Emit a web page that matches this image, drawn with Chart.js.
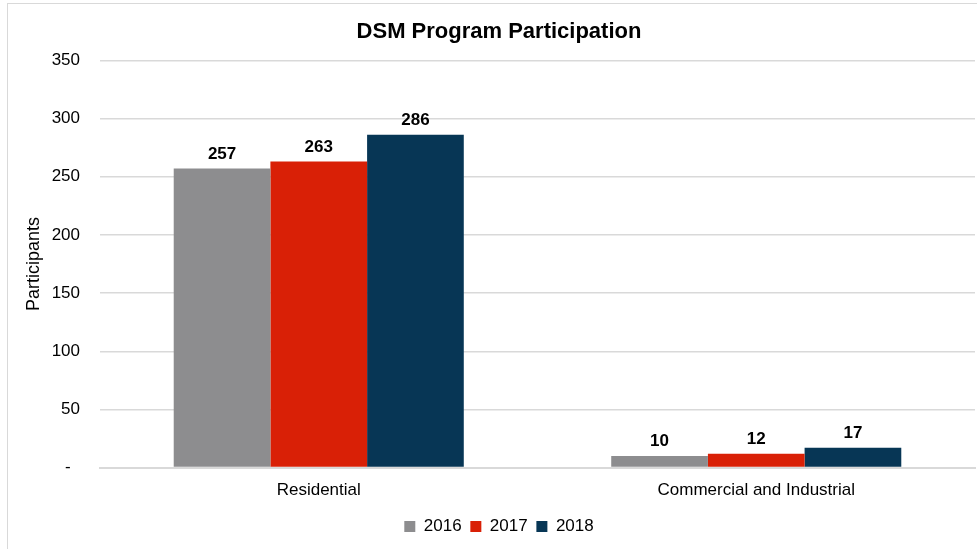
<!DOCTYPE html>
<html>
<head>
<meta charset="utf-8">
<script src="https://cdn.jsdelivr.net/npm/chart.js@4"></script>
<style>
  html, body { margin: 0; padding: 0; background: #fff; }
  #wrap { position: relative; width: 977px; height: 549px; overflow: hidden; }
  #frame { position: absolute; left: 7px; top: 3px; width: 990px; height: 560px; border: 1px solid #d9d9d9; box-sizing: border-box; }
  canvas { position: absolute; left: 0; top: 0; }
</style>
</head>
<body>
<div id="wrap">
  <div id="frame"></div>
  <canvas id="participationChart" width="977" height="549"></canvas>
</div>
<script>
const categories = ["Residential", "Commercial and Industrial"];
const years = ["2016", "2017", "2018"];
const values2016 = [257, 10];
const values2017 = [263, 12];
const values2018 = [286, 17];
const yTicks = [0, 50, 100, 150, 200, 250, 300, 350];
const colors = ["#8d8d8f", "#d92006", "#073655"];

const FONT = "'Liberation Sans', Arial, sans-serif";

// bold value above each bar
const barValueLabels = {
    id: "barValueLabels",
    afterDatasetsDraw(chart) {
        const ctx = chart.ctx;
        ctx.save();
        ctx.font = "bold 17px " + FONT;
        ctx.fillStyle = "#000";
        ctx.textAlign = "center";
        ctx.textBaseline = "alphabetic";
        chart.data.datasets.forEach((ds, i) => {
            chart.getDatasetMeta(i).data.forEach((bar, j) => {
                ctx.fillText(ds.data[j], bar.x, bar.y - 10);
            });
        });
        ctx.restore();
    }
};

const ctx = document.getElementById("participationChart");

new Chart(ctx, {
    type: "bar",
    data: {
        labels: categories,
        datasets: [values2016, values2017, values2018].map((vals, i) => ({
            label: years[i],
            data: vals,
            backgroundColor: colors[i],
            categoryPercentage: 0.663,
            barPercentage: 1.0
        }))
    },
    options: {
        responsive: false,
        animation: false,
        layout: { padding: { left: 23, right: 2, top: 19, bottom: 4 } },
        plugins: {
            title: {
                display: true,
                text: "DSM Program Participation",
                color: "#000",
                font: { family: FONT, size: 22, weight: "bold" },
                padding: { top: 0, bottom: 15 }
            },
            legend: {
                position: "bottom",
                labels: {
                    color: "#000",
                    boxWidth: 11,
                    boxHeight: 11,
                    padding: 4,
                    font: { family: FONT, size: 17 },
                    // a trailing space widens the gap between items without extra vertical padding
                    generateLabels: (chart) =>
                        Chart.defaults.plugins.legend.labels.generateLabels(chart).map((item, i, all) => ({
                            ...item,
                            text: i < all.length - 1 ? item.text + " " : item.text
                        }))
                }
            },
            tooltip: { enabled: false }
        },
        scales: {
            x: {
                grid: { display: false, drawTicks: false },
                border: { color: "#d9d9d9", width: 2 },
                ticks: {
                    color: "#000",
                    padding: 13,
                    font: { family: FONT, size: 17 }
                }
            },
            y: {
                min: 0,
                max: 350,
                afterBuildTicks: (scale) => {
                    scale.ticks = yTicks.map(v => ({ value: v }));
                },
                afterFit: (scale) => { scale.width = 77; },
                grid: { color: "#d9d9d9", lineWidth: 1.5, drawTicks: false },
                border: { display: false },
                ticks: {
                    color: "#000",
                    padding: 20,
                    font: { family: FONT, size: 17 },
                    callback: (value) => value === 0 ? "-  " : value
                },
                title: {
                    display: true,
                    text: "Participants",
                    color: "#000",
                    font: { family: FONT, size: 18 },
                    padding: 0
                }
            }
        }
    },
    plugins: [barValueLabels]
});
</script>
</body>
</html>
